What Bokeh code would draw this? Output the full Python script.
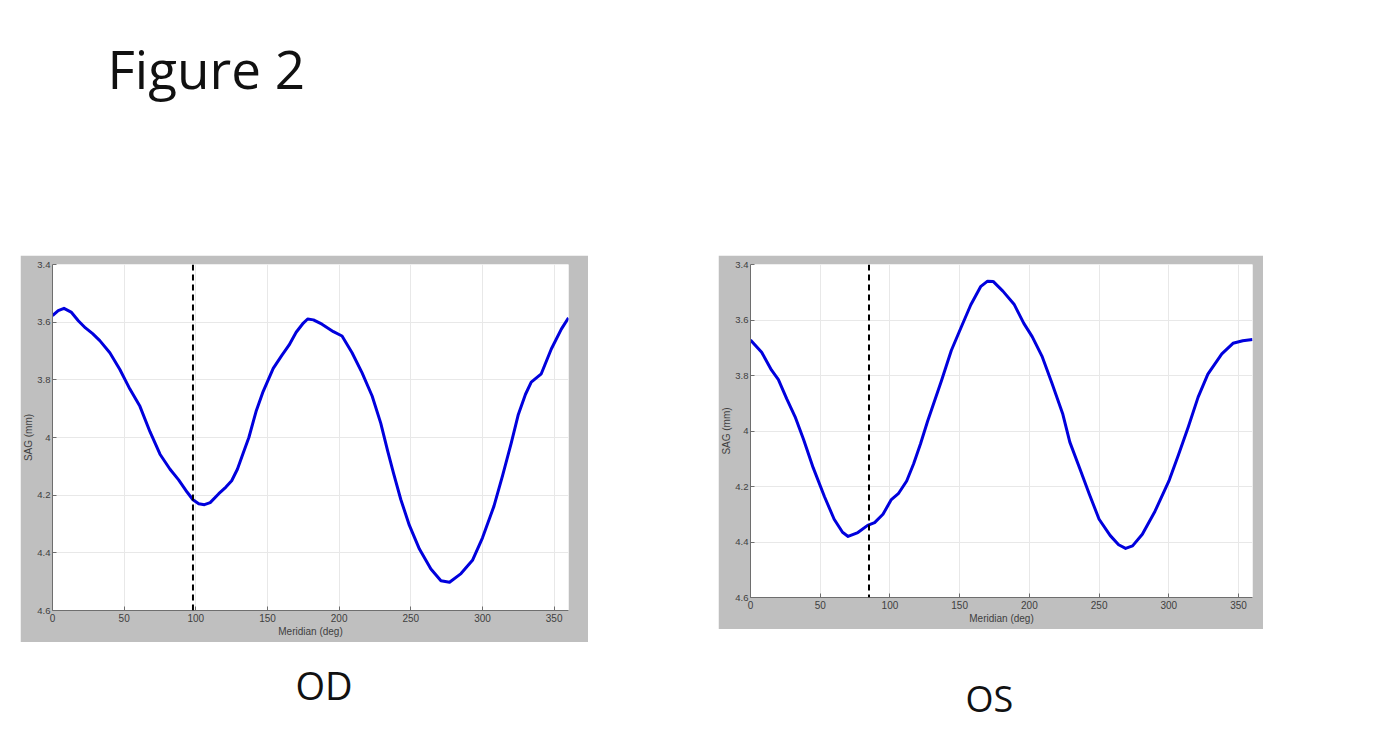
from bokeh.plotting import figure
from bokeh.layouts import column, row
from bokeh.models import Range1d, FixedTicker, CustomJSTickFormatter, Span, Label, Spacer
from bokeh.embed import file_html
from bokeh.resources import INLINE

# ---------------- data ----------------
title_text = "Figure 2"
panel_labels = ["OD", "OS"]
x_label = "Meridian (deg)"
y_label = "SAG (mm)"
x_ticks = [0, 50, 100, 150, 200, 250, 300, 350]
y_ticks = [3.4, 3.6, 3.8, 4.0, 4.2, 4.4, 4.6]

od_deg = [0, 4, 8, 13, 18, 23, 28, 33, 40, 47, 54, 61, 68, 75, 82, 88, 94, 98,
          102, 106, 110, 116, 121, 125, 129, 133, 137, 142, 147, 154, 160, 165,
          170, 175, 178, 182, 188, 196, 202, 209, 216, 223, 229, 234, 238, 243,
          249, 256, 264, 271, 277, 285, 293, 300, 308, 314, 320, 325, 330, 334,
          341, 348, 355, 360]
od_sag = [3.577, 3.560, 3.552, 3.565, 3.595, 3.620, 3.640, 3.664, 3.706, 3.764,
          3.832, 3.892, 3.980, 4.058, 4.110, 4.147, 4.190, 4.216, 4.230, 4.233,
          4.226, 4.195, 4.172, 4.150, 4.110, 4.055, 4.000, 3.910, 3.840, 3.760,
          3.715, 3.680, 3.635, 3.603, 3.589, 3.592, 3.607, 3.633, 3.648, 3.706,
          3.776, 3.856, 3.950, 4.050, 4.125, 4.215, 4.305, 4.387, 4.456, 4.497,
          4.502, 4.472, 4.426, 4.348, 4.238, 4.132, 4.020, 3.920, 3.850, 3.808,
          3.779, 3.693, 3.624, 3.585]
od_marker = 98

os_deg = [0, 8, 15, 20, 26, 32, 38, 45, 53, 60, 66, 70, 77, 84, 89, 95, 101, 106,
          112, 117, 122, 127, 137, 144, 151, 158, 165, 170, 174, 181, 189, 196,
          202, 209, 216, 224, 229, 236, 243, 250, 258, 264, 269, 274, 281, 290,
          300, 307, 314, 321, 328, 338, 346, 353, 360]
os_sag = [3.672, 3.716, 3.780, 3.815, 3.884, 3.949, 4.030, 4.133, 4.236, 4.318,
          4.365, 4.380, 4.366, 4.340, 4.330, 4.300, 4.247, 4.226, 4.180, 4.118,
          4.045, 3.965, 3.818, 3.710, 3.627, 3.545, 3.480, 3.460, 3.461, 3.496,
          3.543, 3.612, 3.660, 3.730, 3.825, 3.940, 4.040, 4.133, 4.228, 4.318,
          4.377, 4.410, 4.423, 4.414, 4.372, 4.290, 4.181, 4.085, 3.985, 3.878,
          3.795, 3.722, 3.684, 3.675, 3.670]
os_marker = 85

# ---------------- styling ----------------
GRAY = "#bfbfbf"
AX = "#6e6e6e"
TXT = "#404040"
FONT = "Liberation Sans"
BLUE = "#0000dd"


def make_panel(deg, sag, marker, width, height, left, right, top, bottom):
    p = figure(width=width, height=height, output_backend="svg",
               toolbar_location=None,
               x_range=Range1d(0, 360), y_range=Range1d(4.6, 3.4),
               min_border_left=left, min_border_right=right,
               min_border_top=top, min_border_bottom=bottom)
    p.border_fill_color = GRAY
    p.background_fill_color = "white"
    p.outline_line_color = None

    p.xaxis.ticker = FixedTicker(ticks=x_ticks)
    p.yaxis.ticker = FixedTicker(ticks=y_ticks)
    p.yaxis.formatter = CustomJSTickFormatter(
        code="return String(Math.round(tick*10)/10);")
    p.xaxis.axis_label = x_label
    p.yaxis.axis_label = y_label
    for ax in (p.xaxis, p.yaxis):
        ax.axis_line_color = AX
        ax.axis_line_width = 1
        ax.major_tick_line_color = AX
        ax.major_tick_in = 4
        ax.major_tick_out = 0
        ax.minor_tick_in = 0
        ax.minor_tick_out = 0
        ax.minor_tick_line_color = None
        ax.major_label_text_font = FONT
        ax.major_label_text_font_size = "10px"
        ax.major_label_text_color = TXT
        ax.axis_label_text_font = FONT
        ax.axis_label_text_font_size = "10px"
        ax.axis_label_text_font_style = "normal"
        ax.axis_label_text_color = TXT
    p.xaxis.major_label_standoff = 3
    p.xaxis.axis_label_standoff = 1
    p.yaxis.major_label_text_font_size = "9.5px"
    p.yaxis.major_label_standoff = 2
    p.yaxis.axis_label_standoff = 0

    p.grid.grid_line_color = "#e8e8e8"
    p.grid.grid_line_width = 1

    p.line(deg, sag, line_color=BLUE, line_width=3, line_join="round")
    p.add_layout(Span(location=marker, dimension="height", line_color="black",
                      line_width=2, line_dash="6 4"))
    return p


od = make_panel(od_deg, od_sag, od_marker, 568, 387, 31, 20, 9, 31)
os_ = make_panel(os_deg, os_sag, os_marker, 545, 374, 32, 11, 7, 32)


def text_fig(width, height):
    f = figure(width=width, height=height, output_backend="svg",
               toolbar_location=None, x_range=Range1d(0, 1), y_range=Range1d(0, 1),
               x_axis_location=None, y_axis_location=None, min_border=0)
    f.outline_line_color = None
    f.grid.visible = False
    f.border_fill_color = "white"
    return f


top = text_fig(1384, 255)
top.add_layout(Label(x=107, y=187, x_units="screen", y_units="screen", text=title_text,
                     text_font="Open Sans", text_font_size="53px", text_color="#111111",
                     text_baseline="alphabetic", text_align="left"))

bottom = text_fig(1384, 95)
bottom.add_layout(Label(x=295, y=53, x_units="screen", y_units="screen", text=panel_labels[0],
                        text_font="Open Sans", text_font_size="38px", text_color="#111111",
                        text_baseline="alphabetic", text_align="left"))
bottom.add_layout(Label(x=965, y=39, x_units="screen", y_units="screen", text=panel_labels[1],
                        text_font="Open Sans", text_font_size="36px", text_color="#111111",
                        text_baseline="alphabetic", text_align="left"))

layout = column(top,
                row(Spacer(width=20, height=10), od, Spacer(width=130, height=10), os_),
                bottom)

open("out.html", "w").write(file_html(layout, INLINE))
